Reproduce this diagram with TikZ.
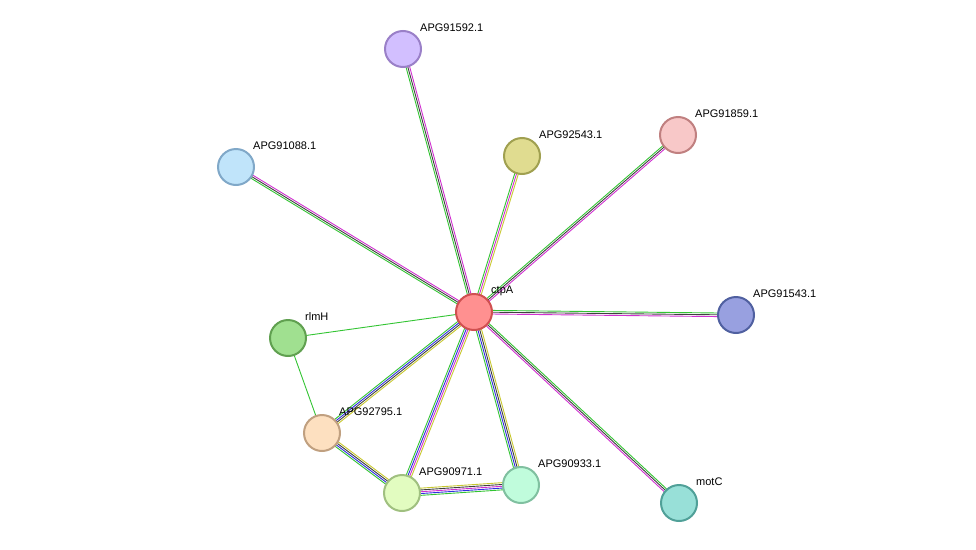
\documentclass[tikz,border=0pt]{standalone}
\usepackage{fontspec}
\setmainfont{Liberation Sans}
\usetikzlibrary{calc,backgrounds}
\definecolor{eG}{HTML}{33C433}
\definecolor{eM}{HTML}{D030D0}
\definecolor{eB}{HTML}{3030E0}
\definecolor{eY}{HTML}{C8C830}
\definecolor{eK}{HTML}{404040}
\newcommand\myedge[4]{\foreach \c [count=\i] in {#4}{%
  \pgfmathsetmacro\o{(\i-(#3+1)/2)*1.8}%
  \draw[draw=\c,line width=0.9pt] ($(#1)!\o pt!90:(#2)$) -- ($(#2)!\o pt!-90:(#1)$);}}
\tikzset{prot/.style n args={2}{circle,minimum size=36pt,inner sep=0pt,line width=2pt,fill=#1,draw=#2},
 lab/.style={anchor=west,font=\fontsize{11}{12}\selectfont,inner sep=0pt}}
\def\P#1#2#3#4#5#6{\definecolor{f#1}{HTML}{#4}\definecolor{d#1}{HTML}{#5}%
  \node[prot={f#1}{d#1}] (#1) at (#2,#3) {}; \node[lab] (l#1) at (#2+17,#3-21) {#6};}
\begin{document}
\begin{tikzpicture}[x=1pt,y=-1pt]
\useasboundingbox (0,0) rectangle (976,549);
\P{ctpA}{474}{312}{FF9090}{D05050}{ctpA}
\P{a1592}{403}{49}{D2BFFF}{9A80C8}{APG91592.1}
\P{a2543}{522}{156}{E0DC90}{A0A050}{APG92543.1}
\P{a1859}{678}{135}{F8C8C8}{C08080}{APG91859.1}
\P{a1088}{236}{167}{C0E4FA}{80A8C8}{APG91088.1}
\P{a1543}{736}{315}{98A0E0}{5060A0}{APG91543.1}
\P{rlmH}{288}{338}{A0E090}{60A050}{rlmH}
\P{a2795}{322}{433}{FDE0C0}{C0A080}{APG92795.1}
\P{a0971}{402}{493}{E2FCC0}{A0C080}{APG90971.1}
\P{a0933}{521}{485}{C0FCDC}{80C0A0}{APG90933.1}
\P{motC}{679}{503}{98E0D8}{50A098}{motC}
\begin{pgfonlayer}{background}
\myedge{ctpA}{a1592}{3}{eM,eK,eG}
\myedge{ctpA}{a2543}{3}{eY,eM,eG}
\myedge{ctpA}{a1859}{3}{eM,eK,eG}
\myedge{ctpA}{a1088}{3}{eM,eK,eG}
\myedge{ctpA}{a1543}{3}{eM,eK,eG}
\myedge{ctpA}{motC}{3}{eM,eK,eG}
\myedge{ctpA}{rlmH}{1}{eG}
\myedge{ctpA}{a2795}{4}{eG,eB,eK,eY}
\myedge{ctpA}{a0971}{4}{eG,eB,eM,eY}
\myedge{ctpA}{a0933}{4}{eG,eB,eK,eY}
\myedge{rlmH}{a2795}{1}{eG}
\myedge{a2795}{a0971}{4}{eG,eB,eK,eY}
\myedge{a0971}{a0933}{5}{eG,eB,eM,eK,eY}
\end{pgfonlayer}
\end{tikzpicture}
\end{document}
